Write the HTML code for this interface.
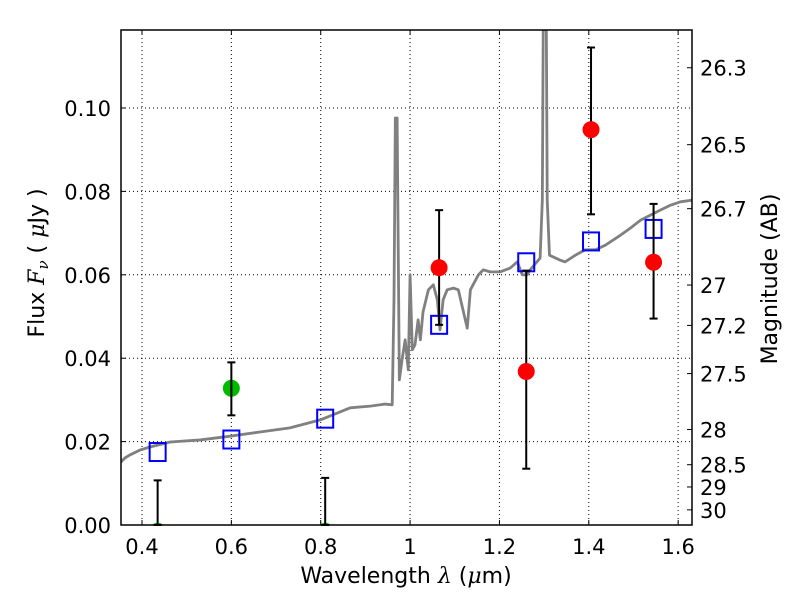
<!DOCTYPE html>
<html><head><meta charset="utf-8"><style>
body{margin:0;background:#fff;}
svg{font-family:"DejaVu Sans","Liberation Sans",sans-serif;}
</style></head><body>
<svg id="chart" width="800" height="600"></svg>
<script>
const specLam=[0.353,0.362,0.373,0.396,0.418,0.463,0.530,0.597,0.664,0.731,0.799,0.866,0.911,0.944,0.960,0.964,0.967,0.971,0.976,0.982,0.989,0.996,1.000,1.005,1.011,1.018,1.023,1.029,1.041,1.052,1.061,1.067,1.074,1.083,1.097,1.108,1.121,1.128,1.135,1.153,1.164,1.179,1.202,1.224,1.240,1.251,1.262,1.269,1.291,1.296,1.298,1.305,1.307,1.312,1.336,1.347,1.370,1.392,1.415,1.437,1.471,1.493,1.516,1.538,1.560,1.583,1.605,1.632];
const specFlux=[0.0151,0.0161,0.0168,0.018,0.0187,0.0199,0.0204,0.0213,0.0223,0.0233,0.0252,0.0281,0.0285,0.029,0.0288,0.054,0.0976,0.0976,0.0348,0.0396,0.0444,0.0372,0.06,0.042,0.0432,0.0492,0.0444,0.0511,0.0564,0.0576,0.054,0.0468,0.054,0.0564,0.0568,0.0564,0.0504,0.0472,0.0564,0.06,0.0612,0.0607,0.0607,0.0616,0.0631,0.06,0.06,0.0612,0.064,0.0779,0.1187,0.1187,0.0779,0.0647,0.0635,0.0631,0.0647,0.066,0.066,0.0671,0.0695,0.0712,0.0731,0.0743,0.0755,0.0767,0.0775,0.0779];
const sqLam=[0.435,0.6,0.81,1.065,1.26,1.405,1.545];
const sqFlux=[0.0175,0.0205,0.0255,0.048,0.063,0.068,0.071];
const redLam=[1.065,1.26,1.405,1.545];
const redFlux=[0.0617,0.0368,0.0948,0.063];
const redLo=[0.048,0.0135,0.0745,0.0495];
const redHi=[0.0755,0.0610,0.1145,0.077];
const grnLam=[0.6,0.435,0.81];
const grnFlux=[0.0328,-0.0015,-0.0015];
const grnLo=[0.0263,0,0];
const grnHi=[0.039,0.0107,0.0113];
const xTicks=[0.4,0.6,0.8,1,1.2,1.4,1.6];
const xTickLabels=["0.4","0.6","0.8","1","1.2","1.4","1.6"];
const yTicks=[0,0.02,0.04,0.06,0.08,0.10];
const yTickLabels=["0.00","0.02","0.04","0.06","0.08","0.10"];
const magTicks=[26.3,26.5,26.7,27,27.2,27.5,28,28.5,29,30];
const magLabels=["26.3","26.5","26.7","27","27.2","27.5","28","28.5","29","30"];

const L=121,R=692,T=30,B=525,X0=0.353,X1=1.631,Y0=0,Y1=0.1187;
const sx=v=>L+(v-X0)/(X1-X0)*(R-L);
const sy=v=>B-(v-Y0)/(Y1-Y0)*(B-T);
const NS="http://www.w3.org/2000/svg";
const svg=document.getElementById('chart');
function mk(tag,attrs,parent){const e=document.createElementNS(NS,tag);for(const k in attrs)e.setAttribute(k,attrs[k]);(parent||svg).appendChild(e);return e;}
const defs=mk('defs',{});
const clip=mk('clipPath',{id:'pc'},defs);mk('rect',{x:L,y:T,width:R-L,height:B-T},clip);
const grid=mk('g',{});


xTicks.forEach((t,i)=>{
  const x=sx(t);
  mk('line',{x1:x,x2:x,y1:T,y2:B,stroke:'#000','stroke-dasharray':'1,3','stroke-width':1},grid);
  mk('line',{x1:x,x2:x,y1:B,y2:B-5,stroke:'#000'});mk('line',{x1:x,x2:x,y1:T,y2:T+5,stroke:'#000'});
  const tx=mk('text',{x:x,y:B+29,'text-anchor':'middle','font-size':21});tx.textContent=xTickLabels[i];
  
  
});
yTicks.forEach((t,i)=>{
  const y=sy(t);
  mk('line',{x1:L,x2:R,y1:y,y2:y,stroke:'#000','stroke-dasharray':'1,3','stroke-width':1},grid);
  mk('line',{x1:L,x2:L+5,y1:y,y2:y,stroke:'#000'});
  const tx=mk('text',{x:L-10,y:y+8,'text-anchor':'end','font-size':21});tx.textContent=yTickLabels[i];
  
  
});
magTicks.forEach((m,i)=>{
  const y=sy(Math.pow(10,(23.9-m)/2.5));
  mk('line',{x1:R,x2:R-5,y1:y,y2:y,stroke:'#000'});
  const tx=mk('text',{x:R+8,y:y+8,'font-size':21});tx.textContent=magLabels[i];
  
  
});
const g=mk('g',{'clip-path':'url(#pc)'});
const sp=mk('polyline',{points:specLam.map((l,i)=>sx(l)+','+sy(specFlux[i])).join(' '),fill:'none',stroke:'#808080','stroke-width':2.8,'stroke-linejoin':'round'},g);


function err(lam,lo,hi,name){
  const x=sx(lam),y1=sy(lo),y2=sy(hi);
  const e=mk('g',{stroke:'#000','stroke-width':2});
  
  
  mk('line',{x1:x,x2:x,y1:y1,y2:y2},e);
  mk('line',{x1:x-4,x2:x+4,y1:y1,y2:y1},e);mk('line',{x1:x-4,x2:x+4,y1:y2,y2:y2},e);
}
sqLam.forEach((l,i)=>{
  const r=mk('rect',{x:sx(l)-8,y:sy(sqFlux[i])-9,width:16,height:18,fill:'none',stroke:'#0000ff','stroke-width':2});
  
  
});
redLam.forEach((l,i)=>{
  err(l,redLo[i],redHi[i],'red-errorbar');
  const c=mk('circle',{cx:sx(l),cy:sy(redFlux[i]),r:8.5,fill:'#ff0000'});
  
  
});
const gg=mk('g',{'clip-path':'url(#pc)'});
grnLam.forEach((l,i)=>{
  err(l,grnLo[i],grnHi[i],'green-errorbar');
  const c=mk('circle',{cx:sx(l),cy:sy(grnFlux[i]),r:8.5,fill:'#00bb00'},gg);
  
  
});
const fr=mk('rect',{x:L,y:T,width:R-L,height:B-T,fill:'none',stroke:'#000','stroke-width':1.5});


</script>
<svg width="800" height="600" style="position:absolute;left:0;top:0">
<text x="406" y="583" text-anchor="middle" font-size="22" font-family="DejaVu Sans,sans-serif">Wavelength  <tspan font-style="italic" font-family="DejaVu Serif,serif">λ</tspan> (<tspan font-style="italic" font-family="DejaVu Serif,serif">μ</tspan>m)</text>
<text transform="translate(44,263) rotate(-90)" text-anchor="middle" font-size="22" font-family="DejaVu Sans,sans-serif">Flux  <tspan font-style="italic" font-family="DejaVu Serif,serif">F<tspan font-size="15" dy="4">ν</tspan></tspan><tspan dy="-4">  (  <tspan font-style="italic" font-family="DejaVu Serif,serif">μ</tspan>Jy )</tspan></text>
<text transform="translate(777,279) rotate(-90)" text-anchor="middle" font-size="22" font-family="DejaVu Sans,sans-serif">Magnitude (AB)</text>
</svg>
</body></html>
